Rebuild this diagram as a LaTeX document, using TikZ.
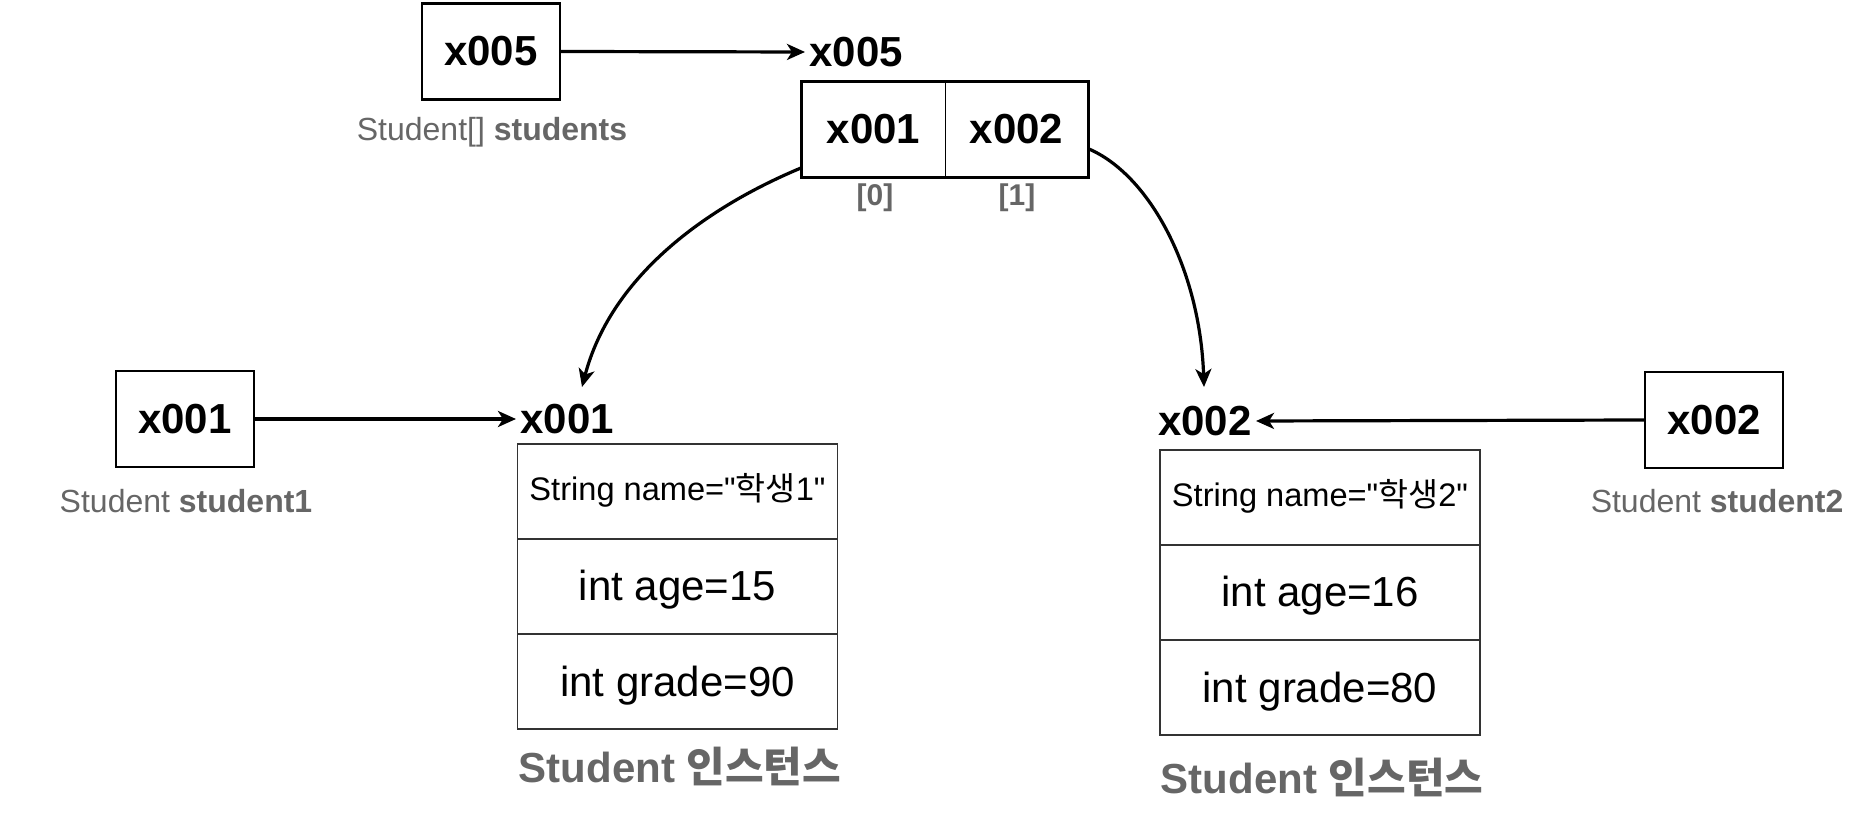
\documentclass[tikz,border=0pt]{standalone}
\usepackage{fontspec}
\setmainfont{Liberation Sans}[Ligatures=TeXOff]
\newfontfamily\kr{Noto Sans CJK KR}
\usetikzlibrary{arrows.meta}
\definecolor{capgray}{HTML}{666666}
\definecolor{linegray}{HTML}{333333}
\begin{document}
\begin{tikzpicture}[x=0.5pt,y=-0.5pt,
  refbox/.style={draw=black, line width=1.2pt, minimum width=69pt, minimum height=48pt, inner sep=0pt, font=\fontsize{21}{25}\selectfont\bfseries},
  cellbox/.style={minimum width=71.5pt, minimum height=47.5pt, inner sep=0pt, font=\fontsize{21}{25}\selectfont\bfseries},
  addr/.style={inner sep=2pt, font=\fontsize{21}{25}\selectfont\bfseries},
  varlbl/.style={inner sep=0pt, text=capgray, font=\fontsize{16}{19}\selectfont},
  idxlbl/.style={inner sep=0pt, text=capgray, font=\fontsize{15}{18}\selectfont\bfseries},
  fieldbox/.style={draw=linegray, line width=0.8pt, minimum width=160pt, minimum height=47.5pt, inner sep=0pt},
  field/.style={fieldbox, text height=19pt, text depth=4.5pt, font=\fontsize{21}{25}\selectfont},
  namefield/.style={fieldbox, text height=12.5pt, text depth=3.5pt, font=\fontsize{16.3}{19}\selectfont},
  caption/.style={inner sep=0pt, text=capgray, font=\fontsize{21}{25}\selectfont\bfseries},
  conn/.style={-{Stealth[length=9pt,width=8pt,inset=2.5pt]}, line width=1.6pt, black}
]
\useasboundingbox (0,0) rectangle (1872,838);

% students array reference
\node[refbox] (v5) at (491,51.5) {x005};
\node[varlbl] (v5l) at (492,132) {Student[] \textbf{students}};
\node[addr, anchor=west] (a5) at (805,52) {x005};
\node[cellbox] (c0) at (873.5,129.5) {x001};
\node[cellbox] (c1) at (1016.5,129.5) {x002};
\draw[line width=1.2pt] (c0.north west) rectangle (c1.south east);
\draw[line width=0.7pt] (c0.north east) -- (c0.south east);
\node[idxlbl] (i0) at (875,198) {[0]};
\node[idxlbl] (i1) at (1017,198) {[1]};
\draw[conn] (v5.east) -- (a5.west);

% student1
\node[refbox] (v1) at (185,419) {x001};
\node[varlbl] (v1l) at (186,501) {Student \textbf{student1}};
\node[addr, anchor=west] (a1) at (516,419) {x001};
\draw[conn] (v1.east) -- (a1.west);
\node[namefield] (r11) at (677.5,491.5) {String name="{\kr 학생}1"};
\node[field] (r12) at (677.5,586.5) {int age=15};
\node[field] (r13) at (677.5,681.5) {int grade=90};
\node[caption] (cap1) at (680,766) {Student {\kr 인스턴스}};

% student2
\node[refbox] (v2) at (1714,420) {x002};
\node[varlbl] (v2l) at (1717,501) {Student \textbf{student2}};
\node[addr, anchor=east] (a2) at (1256,421) {x002};
\draw[conn] (v2.west) -- (a2.east);
\node[namefield] (r21) at (1320,497.5) {String name="{\kr 학생}2"};
\node[field] (r22) at (1320,592.5) {int age=16};
\node[field] (r23) at (1320,687.5) {int grade=80};
\node[caption] (cap2) at (1322,777) {Student {\kr 인스턴스}};

% curved pointers from array cells
\coordinate (t1) at (582,387);
\coordinate (t2) at (1204,387);
\draw[conn] (c0.208) .. controls (700,210) and (610,280) .. (t1);
\draw[conn] (c1.-15) .. controls (1150,175) and (1200,270) .. (t2);
\end{tikzpicture}
\end{document}
